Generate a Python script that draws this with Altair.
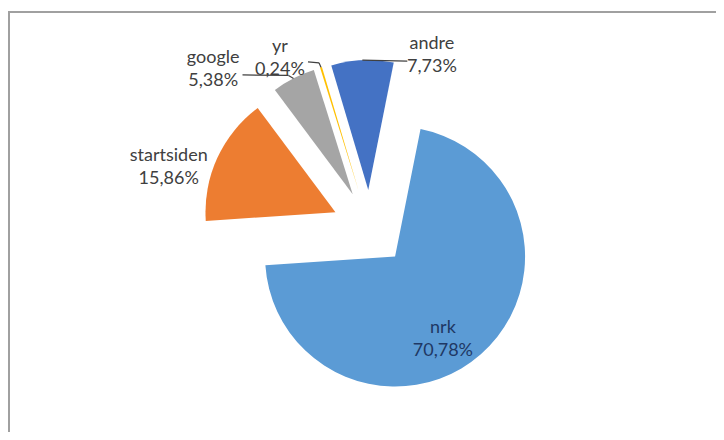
import altair as alt
import pandas as pd

# ---- data ----
labels = ["nrk", "startsiden", "google", "yr", "andre"]
values = [70.78, 15.86, 5.38, 0.24, 7.73]
colors = ["#5B9BD5", "#ED7D31", "#A5A5A5", "#FFC000", "#4472C4"]

# ---- layout (pixels / degrees) ----
W, H = 708, 424
CX, CY = 362, 220          # pie centre
R = 130                    # pie radius
EXPLODE = 38               # explosion distance of every slice
START_DEG = 11.3           # angle of first slice
label_r = [86, 176, 195, 165, 159]        # label distance from slice centre
label_deg = [146.2, 288.7, 314.3, 331.4, 23.6]
text_colors = ["#1F3864", "#404040", "#404040", "#404040", "#404040"]
has_leader = [0, 0, 1, 1, 1]
lead_dx1 = [0, 0, -5, -2, 45]
lead_dy1 = [0, 0, -3, -4.5, 1]
lead_dx2 = [0, 0, -51, -13, 45]
lead_dy2 = [0, 0, -3.5, -5.5, 1]

df = pd.DataFrame({
    "order": list(range(len(labels))),
    "label": labels,
    "value": values,
    "lr": label_r,
    "ld": label_deg,
    "tcol": text_colors,
    "lead": has_leader,
    "dx1": lead_dx1, "dy1": lead_dy1,
    "dx2": lead_dx2, "dy2": lead_dy2,
})

start_rad = f"({START_DEG}*PI/180)"
base = (
    alt.Chart(df)
    .transform_joinaggregate(total="sum(value)")
    .transform_window(cum="sum(value)", sort=[alt.SortField("order")], frame=[None, 0])
    .transform_calculate(
        a0=f"{start_rad} + 2*PI*(datum.cum - datum.value)/datum.total",
        a1=f"{start_rad} + 2*PI*datum.cum/datum.total",
    )
    .transform_calculate(am="(datum.a0 + datum.a1)/2")
    .transform_calculate(
        cx=f"{CX} + {EXPLODE}*sin(datum.am)",
        cy=f"{CY} - {EXPLODE}*cos(datum.am)",
    )
    .transform_calculate(
        mx=f"datum.cx + {R}*sin(datum.am)",
        my=f"datum.cy - {R}*cos(datum.am)",
        lx="datum.cx + datum.lr*sin(datum.ld*PI/180)",
        ly="datum.cy - datum.lr*cos(datum.ld*PI/180)",
        txt="datum.label + '\\n' + replace(format(datum.value, '.2f'), '.', ',') + '%'",
    )
    .transform_calculate(
        p1x="datum.mx + datum.dx1", p1y="datum.my + datum.dy1",
        p2x="datum.mx + datum.dx2", p2y="datum.my + datum.dy2",
    )
)

X = lambda f: alt.X(f, type="quantitative", scale=None, axis=None)
Y = lambda f: alt.Y(f, type="quantitative", scale=None, axis=None)

arcs = base.mark_arc(outerRadius=R).encode(
    theta=alt.Theta("a0:Q", scale=None),
    theta2=alt.Theta2("a1:Q"),
    x=X("cx"),
    y=Y("cy"),
    color=alt.Color("label:N", scale=alt.Scale(domain=labels, range=colors), legend=None),
)

lead1 = base.transform_filter("datum.lead == 1").mark_rule(color="#404040", strokeWidth=1.2).encode(
    x=X("mx"), y=Y("my"), x2="p1x:Q", y2="p1y:Q"
)
lead2 = base.transform_filter("datum.lead == 1").mark_rule(color="#404040", strokeWidth=1.2).encode(
    x=X("p1x"), y=Y("p1y"), x2="p2x:Q", y2="p2y:Q"
)

texts = base.mark_text(
    lineBreak="\n", font="Lato", fontSize=18, lineHeight=23,
    align="center", baseline="middle",
).encode(
    x=X("lx"), y=Y("ly"), text="txt:N", color=alt.Color("tcol:N", scale=None)
)

frame_df = pd.DataFrame({"k": [0]})
frame_top = alt.Chart(frame_df).mark_rule(color="#a0a0a0", strokeWidth=2).encode(
    x=alt.value(0), x2=alt.value(W), y=alt.value(4)
)
frame_left = alt.Chart(frame_df).mark_rule(color="#a0a0a0", strokeWidth=2).encode(
    x=alt.value(1), y=alt.value(4), y2=alt.value(H)
)

chart = (
    alt.layer(frame_top, frame_left, arcs, lead1, lead2, texts)
    .properties(width=W, height=H, padding=0, autosize="none", background="white")
    .configure_view(stroke=None)
)

chart.save("out.html", embed_options={"renderer": "svg", "actions": False})
